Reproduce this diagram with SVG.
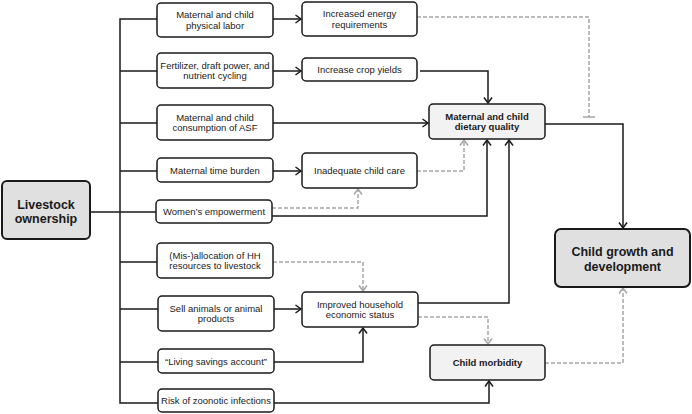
<svg xmlns="http://www.w3.org/2000/svg" width="692" height="414" viewBox="0 0 692 414">
<style>
text{font-family:"Liberation Sans",Arial,sans-serif;font-size:9.5px;fill:#1a1a1a;text-anchor:middle}
.b{font-weight:bold}
.big{font-size:12.5px;font-weight:bold}
.box rect{fill:#fff;stroke:#1a1a1a;stroke-width:1.5}
.mid rect{fill:#f2f2f2}
.main rect{fill:#e0e0e0;stroke-width:2}
.s{fill:none;stroke:#1a1a1a;stroke-width:1.5}
.d{fill:none;stroke:#a6a6a6;stroke-width:1.5;stroke-dasharray:4 2}
.t{fill:none;stroke:#a6a6a6;stroke-width:1.5}
</style>
<defs>
<marker id="ab" markerUnits="userSpaceOnUse" markerWidth="12" markerHeight="12" viewBox="-7 -6 8 12" refX="0" refY="0" orient="auto">
<path d="M-5.5,-4 L0,0 L-5.5,4" fill="none" stroke="#1a1a1a" stroke-width="1.5"/>
</marker>
<marker id="ag" markerUnits="userSpaceOnUse" markerWidth="12" markerHeight="12" viewBox="-7 -6 8 12" refX="0" refY="0" orient="auto">
<path d="M-5.5,-4 L0,0 L-5.5,4" fill="none" stroke="#a6a6a6" stroke-width="1.5"/>
</marker>
</defs>
<g id="connectors">
<path class="s" d="M157,19 H120 V403 H158 M120,71 H157 M120,123 H157 M120,171 H157 M90,212 H156 M120,262 H157 M120,309 H158 M120,362 H158"/>
<path class="s" marker-end="url(#ab)" d="M273,19 H301"/>
<path class="s" marker-end="url(#ab)" d="M273,71 H301"/>
<path class="s" marker-end="url(#ab)" d="M273,123 H428"/>
<path class="s" marker-end="url(#ab)" d="M273,171 H301"/>
<path class="s" marker-end="url(#ab)" d="M420,71 H488 V103"/>
<path class="s" marker-end="url(#ab)" d="M545,124 H623 V228"/>
<path class="s" marker-end="url(#ab)" d="M272,216 H487 V140"/>
<path class="s" marker-end="url(#ab)" d="M274,309 H301"/>
<path class="s" marker-end="url(#ab)" d="M274,362 H363 V328"/>
<path class="s" marker-end="url(#ab)" d="M418,303 H509 V140"/>
<path class="s" marker-end="url(#ab)" d="M274,403 H489 V381"/>
<path class="d" d="M417,17 H589 V117"/>
<path class="t" d="M583,117 H595"/>
<path class="d" marker-end="url(#ag)" d="M417,171 H464 V140"/>
<path class="d" marker-end="url(#ag)" d="M272,208 H358 V189"/>
<path class="d" marker-end="url(#ag)" d="M273,262 H363 V291"/>
<path class="d" marker-end="url(#ag)" d="M418,317 H488 V344"/>
<path class="d" marker-end="url(#ag)" d="M545,363 H623 V288"/>
</g>
<g id="livestock" class="box main"><rect x="2" y="181" width="88" height="58" rx="5"/><text class="big" x="46" y="208.5">Livestock</text><text class="big" x="46" y="223">ownership</text></g>
<g id="n1" class="box"><rect x="157" y="3" width="116" height="34" rx="4"/><text x="215" y="18.2">Maternal and child</text><text x="215" y="28.8">physical labor</text></g>
<g id="n2" class="box"><rect x="157" y="53" width="116" height="35" rx="4"/><text x="215" y="68.7">Fertilizer, draft power, and</text><text x="215" y="79.3">nutrient cycling</text></g>
<g id="n3" class="box"><rect x="157" y="105" width="116" height="35" rx="4"/><text x="215" y="120.7">Maternal and child</text><text x="215" y="131.3">consumption of ASF</text></g>
<g id="n4" class="box"><rect x="157" y="158" width="116" height="24" rx="4"/><text x="215" y="173.5">Maternal time burden</text></g>
<g id="n5" class="box"><rect x="156" y="200" width="116" height="23" rx="4"/><text x="214" y="215">Women’s empowerment</text></g>
<g id="n6" class="box"><rect x="157" y="243" width="116" height="35" rx="4"/><text x="215" y="258.7">(Mis-)allocation of HH</text><text x="215" y="269.3">resources to livestock</text></g>
<g id="n7" class="box"><rect x="158" y="296" width="116" height="35" rx="4"/><text x="216" y="311.7">Sell animals or animal</text><text x="216" y="322.3">products</text></g>
<g id="n8" class="box"><rect x="158" y="349" width="116" height="24" rx="4"/><text x="216" y="364.5">“Living savings account”</text></g>
<g id="n9" class="box"><rect x="158" y="389" width="116" height="23" rx="4"/><text x="216" y="404">Risk of zoonotic infections</text></g>
<g id="m1" class="box"><rect x="302" y="2" width="115" height="34" rx="4"/><text x="359.5" y="17.2">Increased energy</text><text x="359.5" y="27.8">requirements</text></g>
<g id="m2" class="box"><rect x="302" y="58" width="115" height="23" rx="4"/><text x="359.5" y="73">Increase crop yields</text></g>
<g id="m3" class="box"><rect x="302" y="153" width="115" height="35" rx="4"/><text x="359.5" y="174">Inadequate child care</text></g>
<g id="m4" class="box"><rect x="302" y="292" width="116" height="35" rx="4"/><text x="360" y="307.7">Improved household</text><text x="360" y="318.3">economic status</text></g>
<g id="diet" class="box mid"><rect x="429" y="104" width="116" height="35" rx="4"/><text class="b" x="487" y="119.7">Maternal and child</text><text class="b" x="487" y="130.3">dietary quality</text></g>
<g id="morb" class="box mid"><rect x="430" y="345" width="115" height="35" rx="4"/><text class="b" x="487.5" y="366">Child morbidity</text></g>
<g id="growth" class="box main"><rect x="555" y="229" width="135" height="58" rx="6"/><text class="big" x="622.5" y="255.5">Child growth and</text><text class="big" x="622.5" y="271">development</text></g>
</svg>
